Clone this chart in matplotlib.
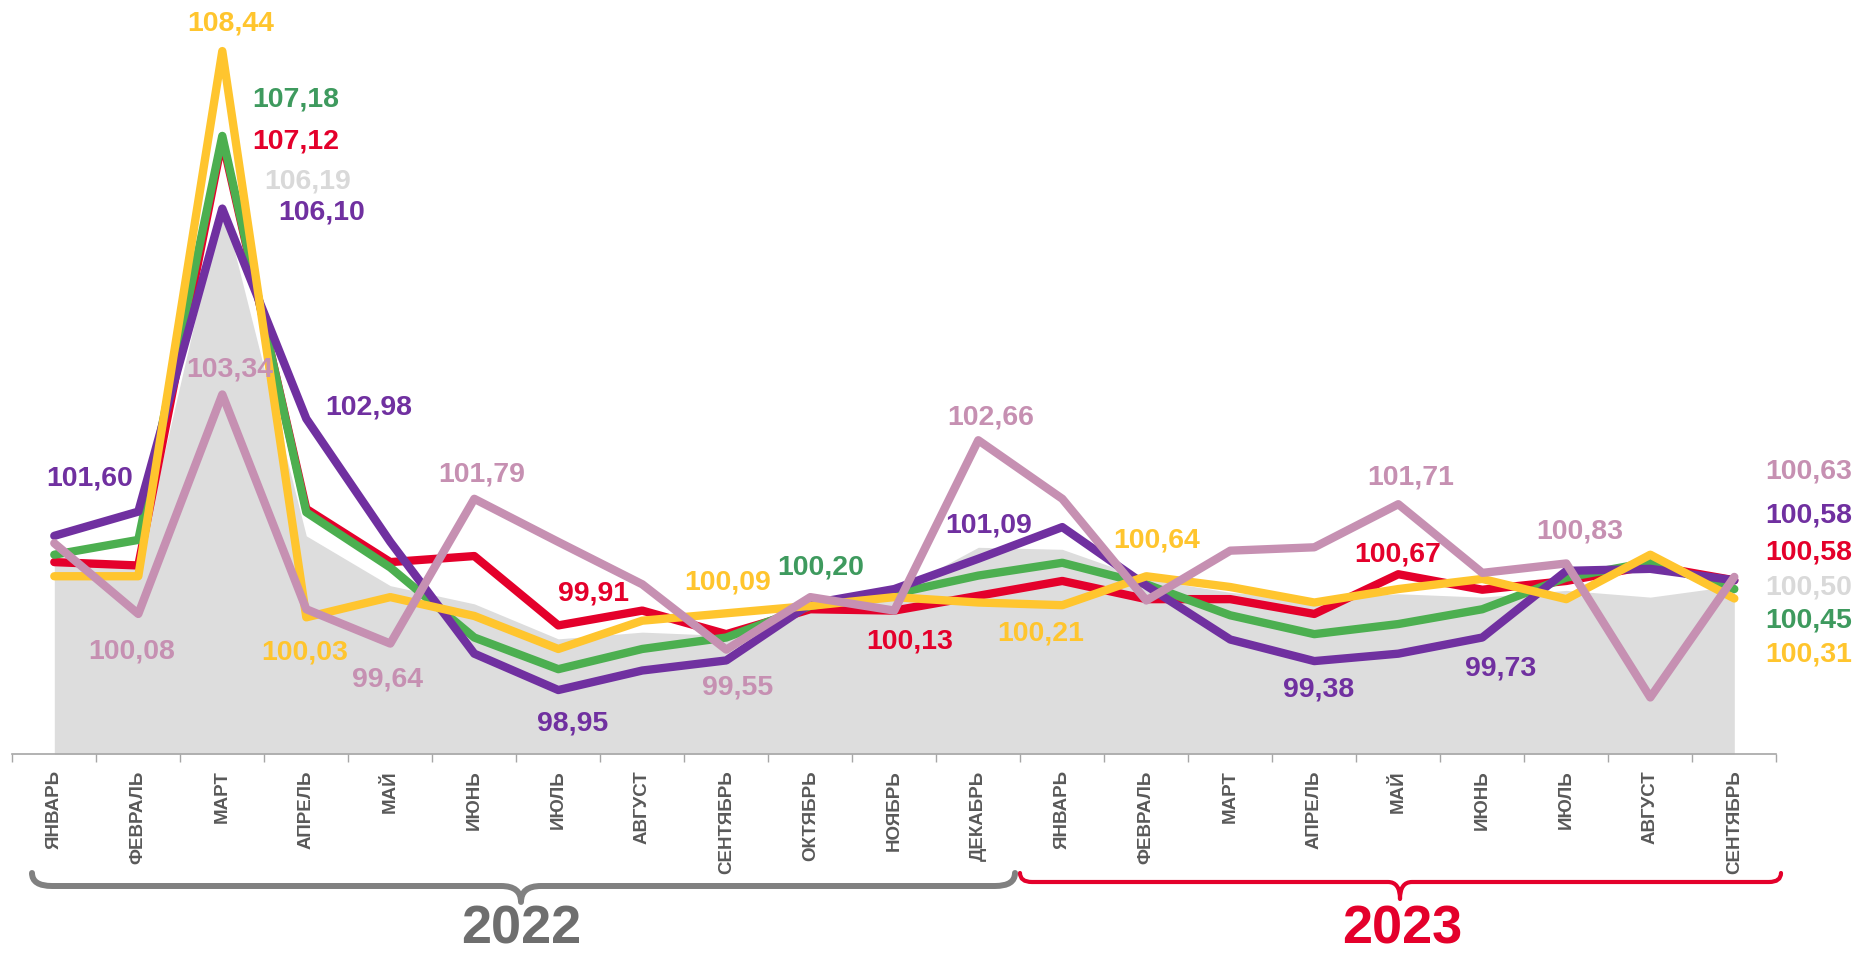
import numpy as np
import matplotlib
matplotlib.use("Agg")
import matplotlib.pyplot as plt
from matplotlib.path import Path
from matplotlib.patches import PathPatch


# Data (monthly indices, previous month = 100)

months = ["ЯНВАРЬ", "ФЕВРАЛЬ", "МАРТ", "АПРЕЛЬ", "МАЙ", "ИЮНЬ", "ИЮЛЬ", "АВГУСТ",
          "СЕНТЯБРЬ", "ОКТЯБРЬ", "НОЯБРЬ", "ДЕКАБРЬ",
          "ЯНВАРЬ", "ФЕВРАЛЬ", "МАРТ", "АПРЕЛЬ", "МАЙ", "ИЮНЬ", "ИЮЛЬ", "АВГУСТ", "СЕНТЯБРЬ"]
years = ["2022", "2023"]

gray_area = [100.82, 100.80, 106.19, 101.24, 100.50, 100.23, 99.71, 99.81, 99.76, 100.15, 100.40,
             101.07, 101.04, 100.60, 100.40, 100.30, 100.38, 100.33, 100.43, 100.33, 100.50]
red = [100.85, 100.80, 107.12, 101.64, 100.85, 100.94, 99.91, 100.13, 99.78, 100.15, 100.13,
       100.35, 100.57, 100.30, 100.30, 100.08, 100.67, 100.44, 100.57, 100.80, 100.58]
green = [100.96, 101.18, 107.18, 101.59, 100.77, 99.73, 99.26, 99.56, 99.73, 100.20, 100.38,
         100.65, 100.84, 100.52, 100.06, 99.78, 99.93, 100.15, 100.62, 100.85, 100.45]
purple = [101.24, 101.60, 106.10, 102.98, 101.15, 99.49, 98.95, 99.24, 99.39, 100.23, 100.45,
          100.90, 101.37, 100.50, 99.70, 99.38, 99.49, 99.73, 100.72, 100.75, 100.58]
yellow = [100.64, 100.64, 108.44, 100.03, 100.33, 100.05, 99.56, 99.98, 100.09, 100.20, 100.33,
          100.25, 100.21, 100.64, 100.48, 100.25, 100.45, 100.60, 100.30, 100.96, 100.31]
pink = [101.13, 100.08, 103.34, 100.15, 99.64, 101.79, 101.15, 100.52, 99.55, 100.33, 100.13,
        102.66, 101.79, 100.28, 101.02, 101.07, 101.71, 100.69, 100.83, 98.84, 100.63]

# labelled points: index -> text
purple_labels = {1: "101,60", 2: "106,10", 3: "102,98", 6: "98,95", 12: "101,09", 15: "99,38", 17: "99,73"}
red_labels = {2: "107,12", 6: "99,91", 10: "100,13", 16: "100,67"}
green_labels = {2: "107,18", 9: "100,20"}
yellow_labels = {2: "108,44", 3: "100,03", 8: "100,09", 12: "100,21", 13: "100,64"}
pink_labels = {1: "100,08", 2: "103,34", 4: "99,64", 5: "101,79", 8: "99,55", 11: "102,66",
               16: "101,71", 18: "100,83"}
gray_labels = {2: "106,19"}


# Styles / layout

C_PURPLE = "#7030A0"
C_RED = "#E4002B"
C_GREEN = "#4CAF50"
C_GREEN_TXT = "#3E9A5E"
C_YELLOW = "#FFC52E"
C_PINK = "#C690B2"
C_GRAY = "#DDDDDD"
C_GRAY_TXT = "#D9D9D9"
C_MONTH = "#595959"
C_2022 = "#6E6E6E"

# label offsets in pixels from the point (dx, dy up)
offsets = {
    "purple": {1: (-49, 34), 2: (99, -3), 3: (62, 12), 6: (14, -32), 12: (-74, 3), 15: (4, -27), 17: (18, -30)},
    "red": {2: (73, -1), 6: (35, 33), 10: (15, -30), 16: (-1, 21)},
    "green": {2: (73, 37), 9: (10, 39)},
    "yellow": {2: (8, 29), 3: (-2, -34), 8: (1, 32), 12: (-22, -27), 13: (10, 37)},
    "pink": {1: (-7, -37), 2: (7, 26), 4: (-3, -35), 5: (7, 25), 8: (11, -37), 11: (12, 24),
             16: (12, 28), 18: (13, 33)},
    "gray": {2: (85, 22)},
}
# end labels: vertical offset (pixels) from the last point
end_dy = {"pink": 106, "purple": 66, "red": 29, "gray": -1, "green": -30, "yellow": -55}

W, H, DPI = 1857, 954, 100
fig = plt.figure(figsize=(W / DPI, H / DPI), dpi=DPI)
ax = fig.add_axes([12.3 / W, (H - 755) / H, 1764 / W, 755 / H])

x = np.arange(len(months))
ax.set_xlim(-0.5, len(months) - 0.5)
ax.set_ylim(98.0, 98.0 + 755 / 67.33)

ax.fill_between(x, gray_area, 98.0, color=C_GRAY, lw=0, zorder=1)

series = [("red", red, C_RED, C_RED, red_labels),
          ("green", green, C_GREEN, C_GREEN_TXT, green_labels),
          ("purple", purple, C_PURPLE, C_PURPLE, purple_labels),
          ("yellow", yellow, C_YELLOW, C_YELLOW, yellow_labels),
          ("pink", pink, C_PINK, C_PINK, pink_labels)]

for z, (name, vals, col, tcol, labs) in enumerate(series):
    ax.plot(x, vals, color=col, lw=6, solid_joinstyle="round", solid_capstyle="round", zorder=2 + z)

lab_font = dict(family=["Liberation Sans", "DejaVu Sans"], fontsize=20.5, fontweight="bold")

all_series = series + [("gray", gray_area, C_GRAY, C_GRAY_TXT, gray_labels)]
for name, vals, col, tcol, labs in all_series:
    for i, txt in labs.items():
        dx, dy = offsets[name][i]
        ax.annotate(txt, xy=(i, vals[i]), xytext=(dx, dy), textcoords="offset pixels",
                    ha="center", va="center", color=tcol, zorder=10, annotation_clip=False, **lab_font)
    last = len(vals) - 1
    ax.annotate(f"{vals[last]:.2f}".replace(".", ","), xy=(last, vals[last]),
                xytext=(1852 - (12.3 + 84 * 20 + 42), end_dy[name]), textcoords="offset pixels",
                ha="right", va="center", color=tcol, zorder=10, annotation_clip=False, **lab_font)

# axes styling
for s in ["top", "right", "left"]:
    ax.spines[s].set_visible(False)
ax.spines["bottom"].set_color("#A6A6A6")
ax.spines["bottom"].set_linewidth(1.2)
ax.set_yticks([])
ax.set_xticks(x)
ax.set_xticklabels(months, rotation=90, va="top", ha="center", color=C_MONTH,
                   fontsize=13.5, fontweight="bold", family=["Liberation Sans", "DejaVu Sans"])
ax.tick_params(axis="x", which="major", length=0, pad=11)
ax.set_xticks(np.arange(-0.5, len(months)), minor=True)
ax.tick_params(axis="x", which="minor", length=6, width=1, color="#A6A6A6")


# Braces and year captions (pixel coordinates)

ov = fig.add_axes([0, 0, 1, 1])
ov.set_xlim(0, W)
ov.set_ylim(H, 0)
ov.axis("off")
ov.patch.set_alpha(0)


def brace(x0, x1, xm, ytop, ybar, ytip, r, color, lw):
    verts = [(x0, ytop), (x0, ybar), (x0 + r, ybar),
             (xm - r, ybar), (xm, ybar), (xm, ytip),
             (xm, ybar), (xm + r, ybar),
             (x1 - r, ybar), (x1, ybar), (x1, ytop)]
    codes = [Path.MOVETO, Path.CURVE3, Path.CURVE3,
             Path.LINETO, Path.CURVE3, Path.CURVE3,
             Path.CURVE3, Path.CURVE3,
             Path.LINETO, Path.CURVE3, Path.CURVE3]
    ov.add_patch(PathPatch(Path(verts, codes), fill=False, edgecolor=color, lw=lw,
                           capstyle="round", joinstyle="round"))


brace(32, 1015, 521, 874, 887, 903, 20, "#808080", 4.3)
brace(1020, 1781, 1400, 874, 883, 900, 12, C_RED, 3.0)

year_font = dict(family=["Liberation Sans", "DejaVu Sans"], fontsize=39, fontweight="bold",
                 ha="center", va="center")
ov.text(521, 930, years[0], color=C_2022, **year_font)
ov.text(1402, 930, years[1], color=C_RED, **year_font)

fig.savefig("out.png", dpi=DPI)
